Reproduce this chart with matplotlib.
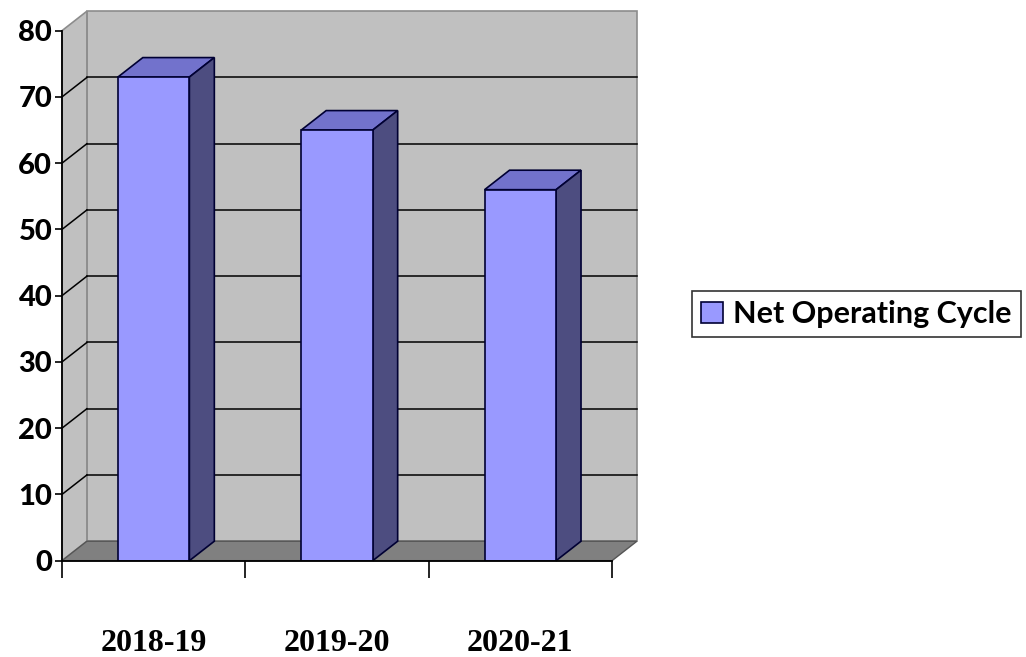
import matplotlib.pyplot as plt
from matplotlib.patches import Polygon

# Net operating cycle (days) per financial year
years = ["2018-19", "2019-20", "2020-21"]
net_operating_cycle = [73, 65, 56]
series_name = "Net Operating Cycle"
y_ticks = [0, 10, 20, 30, 40, 50, 60, 70, 80]

# colours in the classic 3-D column style
WALL = "#C0C0C0"
FLOOR = "#808080"
FRONT = "#9999FF"
TOP = "#7272CC"
SIDE = "#4D4D80"
EDGE = "#000033"

# depth offset of the 3-D box, in data units (categories, value)
DX, DY = 0.136, 2.94
BAR_W = 0.39
YMAX = 80

fig = plt.figure(figsize=(10.26, 6.57), dpi=100)
ax = fig.add_axes([0.0604, 0.1466, 0.5361, 0.8067])
ax.set_xlim(0, len(years))
ax.set_ylim(0, YMAX)
for s in ax.spines.values():
    s.set_visible(False)
ax.set_facecolor("none")

n = len(years)

# back wall, side wall and floor
ax.add_patch(Polygon([(DX, DY), (n + DX, DY), (n + DX, YMAX + DY), (DX, YMAX + DY)],
                     closed=True, fc=WALL, ec="#8C8C8C", lw=1.2, zorder=0, clip_on=False))
ax.add_patch(Polygon([(0, 0), (DX, DY), (DX, YMAX + DY), (0, YMAX)],
                     closed=True, fc=WALL, ec="#8C8C8C", lw=1.2, zorder=0, clip_on=False))
ax.add_patch(Polygon([(0, 0), (n, 0), (n + DX, DY), (DX, DY)],
                     closed=True, fc=FLOOR, ec="#555555", lw=1.0, zorder=1, clip_on=False))

# gridlines on the back wall and their continuation on the side wall
for v in y_ticks[1:-1]:
    ax.plot([DX, n + DX], [v + DY, v + DY], color="black", lw=1.1, zorder=1, clip_on=False)
    ax.plot([0, DX], [v, v + DY], color="black", lw=1.1, zorder=1, clip_on=False)

# columns: front face via bar(), top and side faces as polygons
xs = [i + 0.5 for i in range(n)]
ax.bar(xs, net_operating_cycle, width=BAR_W, color=FRONT, edgecolor=EDGE,
       lw=1.2, zorder=4, label=series_name)
for x, v in zip(xs, net_operating_cycle):
    x0, x1 = x - BAR_W / 2, x + BAR_W / 2
    ax.add_patch(Polygon([(x0, v), (x1, v), (x1 + DX, v + DY), (x0 + DX, v + DY)],
                         closed=True, fc=TOP, ec=EDGE, lw=1.2, zorder=3, clip_on=False))
    ax.add_patch(Polygon([(x1, 0), (x1 + DX, DY), (x1 + DX, v + DY), (x1, v)],
                         closed=True, fc=SIDE, ec=EDGE, lw=1.2, zorder=3, clip_on=False))

# front axes lines
ax.plot([0, 0], [0, YMAX], color="black", lw=1.3, zorder=5, clip_on=False)
ax.plot([0, n], [0, 0], color="black", lw=1.3, zorder=5, clip_on=False)

ax.set_yticks(y_ticks)
ax.set_yticklabels([str(t) for t in y_ticks], fontfamily="Lato",
                   fontweight="black", fontsize=21)
ax.tick_params(axis="y", length=5, width=1.2, pad=2, color="black")

ax.set_xticks(range(n + 1))
ax.set_xticklabels([""] * (n + 1))
ax.tick_params(axis="x", which="major", length=12, width=1.2, color="black")
ax.set_xticks(xs, minor=True)
ax.set_xticklabels(years, minor=True, fontfamily="Liberation Serif",
                   fontweight="bold", fontsize=23)
ax.tick_params(axis="x", which="minor", length=0, pad=49)

leg = ax.legend(loc="center left", bbox_to_anchor=(692 / 1026, 1 - 314 / 657),
                bbox_transform=fig.transFigure, frameon=True, fancybox=False,
                prop={"family": "Lato", "weight": "bold", "size": 22},
                handlelength=0.7, handleheight=0.7, handletextpad=0.35,
                borderpad=0.3, borderaxespad=0)
leg.get_frame().set_edgecolor("black")
leg.get_frame().set_linewidth(1.2)

fig.savefig("out.png", dpi=100)
